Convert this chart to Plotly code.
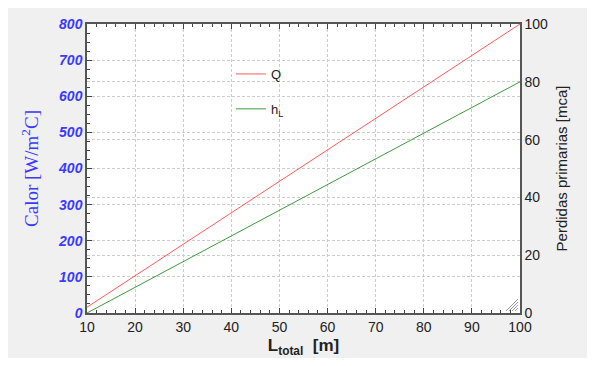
import plotly.graph_objects as go

L_total = [10, 20, 30, 40, 50, 60, 70, 80, 90, 100]
Q_vals = [16, 103, 190, 277, 364, 451, 538, 625, 713, 800]
hL_vals = [0, 8.9, 17.8, 26.7, 35.6, 44.4, 53.3, 62.2, 71.1, 80]
x_ticks = [10, 20, 30, 40, 50, 60, 70, 80, 90, 100]
left_ticks = [0, 100, 200, 300, 400, 500, 600, 700, 800]
right_ticks = [0, 20, 40, 60, 80, 100]

fig = go.Figure()
fig.add_trace(go.Scatter(x=L_total, y=Q_vals, mode="lines", name="Q",
                         line=dict(color="#ff5a5a", width=1), yaxis="y",
                         legendgroup="a"))
fig.add_trace(go.Scatter(x=L_total, y=hL_vals, mode="lines", name="h<sub>L</sub>",
                         line=dict(color="#3c9c3c", width=1), yaxis="y2",
                         legendgroup="b"))

# page has an 8px body margin, so figure coords = screen coords - 8
W, H = 587, 350
ml, mr, mt, mb = 79, 75, 16, 45
pw, ph = W - ml - mr, H - mt - mb

def px(xp):
    return (xp - 8 - ml) / pw

def py(yp):
    return (H - mb - (yp - 8)) / ph

grid = "#cccccc"
gdash = "3px,2px"
fig.update_layout(
    width=W, height=H,
    margin=dict(l=ml, r=mr, t=mt, b=mb),
    paper_bgcolor="#f0f0f0",
    plot_bgcolor="white",
    showlegend=True,
    legend=dict(x=px(231), y=py(59), xanchor="left", yanchor="top",
                bgcolor="rgba(0,0,0,0)", tracegroupgap=15,
                font=dict(family="Liberation Sans, Arial", size=13, color="#222")),
    xaxis=dict(range=[10, 100], tickvals=x_ticks, ticks="inside", ticklen=5,
               tickcolor="#444", mirror="ticks", showline=True, linecolor="#555",
               linewidth=1.5, showgrid=True, gridcolor=grid, griddash=gdash,
               gridwidth=1, zeroline=False, automargin=False,
               minor=dict(dtick=2, ticks="inside", ticklen=3, tickcolor="#444", showgrid=False),
               tickfont=dict(family="Liberation Sans, Arial", size=14, color="#222"),
               title=dict(text="<b>L<sub>total</sub>  [m]</b>", standoff=8,
                          font=dict(family="Liberation Sans, Arial", size=17, color="#222"))),
    yaxis=dict(range=[0, 800], tickvals=left_ticks, ticks="inside", ticklen=5,
               tickcolor="#444", showline=True, linecolor="#555", linewidth=1.5,
               showgrid=True, gridcolor=grid, griddash=gdash, gridwidth=1,
               zeroline=False, automargin=False,
               minor=dict(dtick=25, ticks="inside", ticklen=3, tickcolor="#444", showgrid=False),
               tickfont=dict(family="Liberation Sans, Arial", size=14, color="#3a3aff",
                             style="italic", weight="bold"),
               title=dict(text="Calor [W/m<sup>2</sup>C]", standoff=14,
                          font=dict(family="Liberation Serif, Times New Roman", size=19,
                                    color="#3a3aff"))),
    yaxis2=dict(range=[0, 100], tickvals=right_ticks, overlaying="y", side="right",
                ticks="", showline=True, linecolor="#555", linewidth=1.5,
                showgrid=True, gridcolor=grid, griddash=gdash, gridwidth=1,
                zeroline=False, automargin=False,
                tickfont=dict(family="Liberation Sans, Arial", size=14, color="#222"),
                title=dict(text="Perdidas primarias [mca]", standoff=9,
                           font=dict(family="Liberation Sans, Arial", size=15, color="#222"))),
)

# resize grip
for i in range(4):
    d = 3 + i * 3
    fig.add_shape(type="line", xref="paper", yref="paper",
                  x0=px(518 - d), y0=py(311), x1=px(518), y1=py(311 - d),
                  line=dict(color="#a0a0a0", width=1))

fig.write_html("out.html")
